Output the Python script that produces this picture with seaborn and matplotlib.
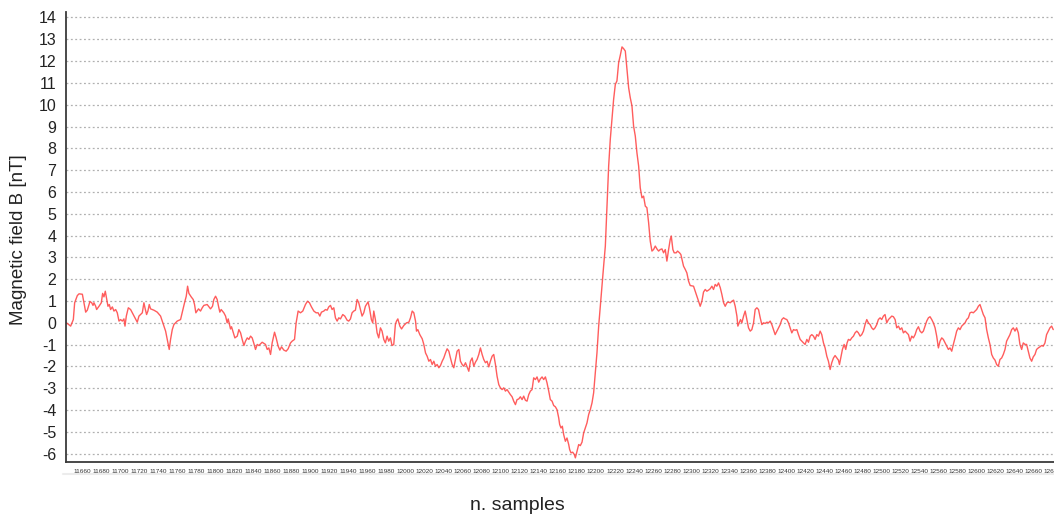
import matplotlib
matplotlib.use("Agg")
import matplotlib.pyplot as plt
from matplotlib.lines import Line2D
import pandas as pd
import seaborn as sns

# sample index (n. samples) and field value [nT]
samples = [
    11643.0, 11644.4, 11647.9, 11650.7, 11652.1, 11654.9, 11656.7, 11660.2, 11661.9, 11663.7,
    11665.4, 11668.2, 11670.0, 11671.4, 11672.4, 11674.2, 11675.2, 11677.7, 11680.1, 11681.5,
    11682.9, 11684.3, 11685.7, 11687.1, 11688.5, 11689.9, 11691.7, 11693.4, 11695.2, 11696.9,
    11698.7, 11700.4, 11702.2, 11703.9, 11705.0, 11706.4, 11708.5, 11710.9, 11713.7, 11716.2,
    11717.9, 11719.7, 11721.4, 11723.2, 11724.9, 11726.0, 11727.7, 11729.1, 11730.5, 11731.9,
    11735.4, 11738.9, 11742.4, 11744.2, 11745.9, 11747.7, 11749.4, 11751.5, 11752.9, 11754.7,
    11756.4, 11759.9, 11763.4, 11765.9, 11767.6, 11769.4, 11770.8, 11772.2, 11774.6, 11776.7,
    11778.1, 11779.5, 11782.3, 11784.4, 11786.2, 11787.9, 11791.4, 11794.9, 11797.0, 11798.4,
    11800.2, 11801.9, 11803.3, 11804.7, 11806.1, 11808.9, 11810.7, 11812.4, 11813.5, 11815.9,
    11817.0, 11818.4, 11820.5, 11823.0, 11824.7, 11826.5, 11828.2, 11830.0, 11831.7, 11833.5,
    11835.2, 11837.0, 11838.7, 11840.5, 11842.2, 11844.0, 11845.7, 11849.2, 11852.7, 11854.5,
    11856.2, 11858.0, 11859.7, 11862.2, 11863.9, 11866.0, 11867.8, 11869.5, 11872.0, 11874.4,
    11876.5, 11879.0, 11880.7, 11883.2, 11884.9, 11887.0, 11889.5, 11891.9, 11894.7, 11896.8,
    11898.9, 11901.0, 11903.5, 11905.9, 11908.0, 11909.8, 11911.5, 11914.0, 11915.7, 11917.5,
    11919.2, 11921.0, 11922.7, 11924.5, 11926.2, 11928.0, 11929.7, 11931.5, 11933.9, 11936.0,
    11938.5, 11940.2, 11942.0, 11943.7, 11945.5, 11947.2, 11949.0, 11950.7, 11952.5, 11954.2,
    11956.0, 11957.7, 11960.5, 11961.9, 11964.0, 11965.4, 11966.5, 11968.2, 11970.0, 11971.7,
    11973.5, 11975.2, 11977.0, 11978.7, 11980.5, 11982.2, 11984.0, 11985.7, 11987.5, 11989.2,
    11990.4, 11991.8, 11993.9, 11995.7, 11998.1, 12000.9, 12003.4, 12005.1, 12006.9, 12008.6,
    12010.4, 12011.4, 12012.8, 12014.9, 12017.4, 12019.1, 12020.9, 12022.6, 12024.4, 12026.1,
    12027.9, 12029.6, 12031.4, 12033.1, 12034.9, 12036.6, 12038.4, 12040.1, 12041.9, 12043.6,
    12045.4, 12047.1, 12048.9, 12050.6, 12052.4, 12054.1, 12055.9, 12057.6, 12059.4, 12061.1,
    12062.9, 12064.6, 12066.4, 12068.1, 12069.9, 12071.6, 12073.4, 12075.1, 12076.9, 12078.6,
    12080.4, 12082.1, 12083.9, 12085.6, 12087.4, 12089.1, 12090.9, 12092.6, 12094.4, 12096.1,
    12097.9, 12099.6, 12101.4, 12103.1, 12104.9, 12106.6, 12108.4, 12110.1, 12111.9, 12113.6,
    12115.4, 12117.1, 12118.9, 12120.6, 12122.4, 12124.1, 12125.9, 12127.6, 12129.4, 12131.1,
    12132.9, 12134.6, 12136.4, 12138.1, 12139.9, 12141.6, 12143.4, 12145.1, 12146.9, 12148.6,
    12150.4, 12152.1, 12153.9, 12155.6, 12157.4, 12159.1, 12160.9, 12161.9, 12163.3, 12164.7,
    12166.1, 12167.9, 12169.6, 12171.4, 12172.4, 12173.8, 12175.6, 12177.3, 12178.4, 12180.1,
    12181.9, 12183.6, 12185.4, 12187.1, 12188.9, 12190.6, 12192.4, 12194.1, 12195.9, 12197.6,
    12199.4, 12201.1, 12202.9, 12204.6, 12206.4, 12208.1, 12209.9, 12211.6, 12213.4, 12215.1,
    12216.9, 12218.6, 12220.4, 12222.1, 12223.9, 12225.6, 12227.4, 12229.1, 12230.9, 12232.6,
    12234.4, 12236.1, 12237.9, 12239.6, 12241.4, 12243.1, 12244.9, 12246.6, 12248.4, 12250.1,
    12251.9, 12253.6, 12255.4, 12257.1, 12258.9, 12260.6, 12262.4, 12264.1, 12265.9, 12267.6,
    12269.4, 12271.1, 12272.9, 12274.6, 12276.4, 12278.1, 12279.2, 12280.9, 12282.3, 12284.4,
    12285.8, 12287.9, 12289.3, 12292.1, 12293.9, 12295.6, 12297.4, 12299.1, 12302.6, 12304.4,
    12306.1, 12307.9, 12309.6, 12311.4, 12313.1, 12314.9, 12316.6, 12318.4, 12320.1, 12321.9,
    12323.6, 12325.4, 12327.1, 12328.9, 12330.7, 12332.4, 12334.2, 12335.9, 12337.7, 12339.4,
    12341.2, 12342.9, 12344.7, 12346.4, 12348.2, 12349.2, 12350.6, 12352.0, 12353.4, 12355.2,
    12356.9, 12358.7, 12360.4, 12362.2, 12363.9, 12365.7, 12367.4, 12369.2, 12370.9, 12372.7,
    12374.4, 12376.2, 12377.9, 12379.7, 12381.4, 12383.2, 12384.9, 12386.7, 12388.4, 12390.2,
    12391.9, 12393.7, 12395.4, 12397.2, 12398.9, 12400.7, 12402.4, 12404.2, 12405.9, 12407.7,
    12409.4, 12411.2, 12412.9, 12414.7, 12416.4, 12418.2, 12419.9, 12421.7, 12423.4, 12425.2,
    12426.9, 12428.7, 12430.4, 12432.2, 12433.9, 12435.7, 12437.4, 12439.2, 12440.9, 12442.7,
    12444.4, 12446.2, 12447.9, 12449.7, 12451.4, 12453.2, 12454.9, 12456.0, 12457.7, 12459.1,
    12460.9, 12462.6, 12464.0, 12465.4, 12467.2, 12468.9, 12470.7, 12472.4, 12474.2, 12475.9,
    12477.7, 12479.4, 12481.2, 12482.9, 12484.7, 12486.4, 12488.2, 12489.9, 12491.7, 12493.4,
    12495.2, 12496.9, 12498.7, 12500.4, 12502.2, 12503.9, 12505.7, 12507.5, 12509.2, 12511.0,
    12512.7, 12514.5, 12516.2, 12518.0, 12519.7, 12521.5, 12523.2, 12525.0, 12526.7, 12528.5,
    12530.2, 12532.0, 12533.7, 12535.5, 12537.2, 12539.0, 12540.7, 12542.5, 12544.2, 12546.0,
    12547.7, 12549.5, 12551.2, 12553.0, 12554.7, 12556.5, 12558.2, 12560.0, 12561.7, 12563.5,
    12565.2, 12567.0, 12568.7, 12570.5, 12572.2, 12574.0, 12575.7, 12577.5, 12579.2, 12581.0,
    12582.7, 12584.5, 12586.2, 12588.0, 12589.7, 12591.5, 12593.2, 12595.0, 12596.7, 12598.5,
    12600.2, 12602.0, 12603.7, 12605.5, 12607.2, 12609.0, 12610.7, 12612.5, 12614.2, 12616.0,
    12617.7, 12619.5, 12621.2, 12623.0, 12624.7, 12626.5, 12628.2, 12630.0, 12631.7, 12633.5,
    12635.2, 12637.0, 12638.7, 12640.5, 12642.2, 12644.0, 12645.7, 12647.5, 12649.2, 12651.0,
    12652.7, 12654.5, 12656.2, 12658.0, 12659.7, 12661.5, 12663.2, 12665.0, 12666.7, 12668.5,
    12670.2, 12672.0, 12673.7, 12675.5, 12677.2, 12679.0, 12680.7,
]

field_nt = [
    0.00, -0.03, -0.15, 0.15, 0.92, 1.25, 1.33, 1.31, 0.92, 0.49,
    0.58, 0.98, 0.92, 0.80, 0.92, 0.76, 0.61, 0.76, 0.92, 1.35,
    1.19, 1.45, 1.10, 0.76, 0.84, 0.61, 0.73, 0.54, 0.61, 0.46,
    0.08, 0.15, 0.08, 0.18, -0.15, 0.31, 0.69, 0.61, 0.38, 0.18,
    0.03, 0.31, 0.38, 0.46, 0.92, 0.69, 0.38, 0.54, 0.84, 0.64,
    0.58, 0.49, 0.31, 0.08, -0.15, -0.38, -0.76, -1.22, -0.76, -0.31,
    -0.08, 0.08, 0.15, 0.61, 0.92, 1.22, 1.68, 1.35, 1.19, 1.07,
    0.84, 0.46, 0.64, 0.54, 0.69, 0.80, 0.84, 0.64, 0.76, 1.07,
    1.22, 1.07, 0.76, 0.49, 0.61, 0.46, 0.31, 0.00, 0.18, -0.28,
    -0.18, -0.38, -0.69, -0.61, -0.31, -0.46, -0.76, -1.04, -0.84, -0.69,
    -0.76, -0.61, -0.69, -0.95, -1.22, -0.99, -1.04, -0.89, -0.99, -1.22,
    -1.15, -1.45, -0.92, -0.43, -0.69, -1.07, -1.25, -1.10, -1.25, -1.30,
    -1.19, -0.92, -0.84, -0.76, 0.00, 0.54, 0.46, 0.54, 0.84, 0.99,
    0.92, 0.73, 0.54, 0.46, 0.46, 0.31, 0.49, 0.54, 0.61, 0.58,
    0.73, 0.80, 0.61, 0.69, 0.23, 0.08, 0.23, 0.18, 0.38, 0.31,
    0.12, 0.08, 0.18, 0.46, 0.54, 0.58, 1.07, 0.92, 0.61, 0.31,
    0.46, 0.76, 0.96, 0.69, 0.15, 0.00, 0.54, 0.15, -0.46, -0.69,
    -0.23, -0.38, -0.76, -0.92, -0.61, -0.84, -0.69, -1.04, -0.99, -0.08,
    0.08, 0.18, -0.15, -0.28, -0.12, 0.00, 0.03, 0.23, 0.54, 0.46,
    0.08, -0.38, -0.31, -0.54, -0.73, -0.99, -1.38, -1.53, -1.76, -1.68,
    -1.91, -1.76, -1.99, -1.91, -2.06, -1.96, -1.76, -1.61, -1.38, -1.19,
    -1.30, -1.61, -1.91, -2.06, -1.68, -1.30, -1.22, -1.76, -1.91, -1.99,
    -1.83, -2.02, -2.22, -1.76, -1.61, -1.99, -1.80, -1.68, -1.45, -1.15,
    -1.45, -1.68, -1.83, -1.76, -2.02, -1.76, -1.53, -1.45, -1.91, -2.45,
    -2.83, -2.98, -3.06, -2.98, -3.13, -3.06, -3.18, -3.29, -3.39, -3.59,
    -3.75, -3.52, -3.49, -3.39, -3.52, -3.36, -3.55, -3.59, -3.29, -3.13,
    -3.06, -2.52, -2.60, -2.48, -2.72, -2.57, -2.48, -2.60, -2.48, -2.75,
    -3.13, -3.52, -3.59, -3.79, -3.85, -3.98, -4.36, -4.66, -4.82, -4.74,
    -5.12, -5.43, -5.28, -5.58, -5.81, -5.96, -5.93, -6.04, -6.19, -5.89,
    -5.58, -5.63, -5.47, -5.05, -4.82, -4.59, -4.20, -3.98, -3.67, -3.21,
    -2.29, -1.38, -0.15, 0.76, 1.68, 2.60, 3.52, 5.35, 7.19, 8.41,
    9.33, 10.24, 10.93, 11.09, 11.93, 12.26, 12.65, 12.57, 12.46, 11.62,
    10.78, 10.32, 9.94, 9.02, 8.56, 7.80, 7.19, 6.19, 5.73, 5.81,
    5.35, 5.28, 4.59, 3.75, 3.29, 3.36, 3.52, 3.39, 3.29, 3.36,
    3.39, 3.21, 3.36, 2.83, 3.36, 3.82, 3.98, 3.36, 3.21, 3.21,
    3.29, 3.21, 3.13, 2.60, 2.45, 2.29, 1.91, 1.71, 1.68, 1.45,
    1.22, 0.99, 0.76, 0.99, 1.41, 1.53, 1.45, 1.50, 1.56, 1.68,
    1.53, 1.76, 1.68, 1.83, 1.61, 1.30, 0.92, 0.76, 0.92, 0.95,
    0.92, 0.99, 1.04, 0.76, 0.31, -0.15, 0.00, 0.15, 0.00, 0.31,
    0.54, 0.15, -0.23, -0.38, -0.31, 0.00, 0.61, 0.69, 0.61, 0.23,
    -0.08, 0.00, -0.03, 0.03, 0.00, 0.08, -0.08, -0.31, -0.54, -0.38,
    -0.23, -0.08, 0.15, 0.23, 0.18, 0.15, 0.00, -0.23, -0.46, -0.31,
    -0.34, -0.31, -0.54, -0.76, -0.84, -0.92, -0.99, -0.76, -0.89, -0.61,
    -0.54, -0.61, -0.76, -0.54, -0.61, -0.38, -0.54, -0.92, -1.15, -1.53,
    -1.76, -2.14, -1.83, -1.61, -1.50, -1.61, -1.71, -1.91, -1.53, -1.22,
    -0.99, -1.22, -0.92, -0.76, -0.80, -0.69, -0.61, -0.46, -0.38, -0.46,
    -0.61, -0.54, -0.38, -0.08, 0.15, 0.00, -0.08, -0.23, -0.31, -0.23,
    -0.08, 0.15, 0.23, 0.15, 0.31, 0.38, 0.00, 0.15, 0.23, 0.31,
    0.28, 0.15, -0.23, -0.15, -0.31, -0.23, -0.46, -0.38, -0.46, -0.54,
    -0.84, -0.61, -0.69, -0.54, -0.31, -0.18, -0.38, -0.46, -0.38, -0.15,
    0.08, 0.23, 0.28, 0.15, 0.00, -0.23, -0.61, -1.15, -0.84, -0.69,
    -0.76, -0.92, -1.07, -1.22, -1.15, -1.30, -0.99, -0.69, -0.38, -0.23,
    -0.31, -0.15, -0.08, 0.00, 0.15, 0.23, 0.46, 0.49, 0.46, 0.54,
    0.61, 0.76, 0.84, 0.61, 0.38, 0.23, -0.31, -0.69, -0.99, -1.45,
    -1.61, -1.71, -1.91, -1.99, -1.68, -1.61, -1.45, -1.22, -0.84, -0.69,
    -0.54, -0.31, -0.23, -0.38, -0.23, -0.46, -0.99, -1.22, -0.92, -0.99,
    -0.99, -1.30, -1.61, -1.76, -1.56, -1.45, -1.22, -1.15, -1.10, -1.04,
    -1.07, -0.92, -0.54, -0.38, -0.23, -0.15, -0.31,
]

x_ticks = list(range(11660, 12681, 20))
y_ticks = list(range(-6, 15))

df = pd.DataFrame({"n. samples": samples, "Magnetic field B [nT]": field_nt})

sns.set_style("white")
plt.rcParams["font.family"] = ["Liberation Sans", "DejaVu Sans"]
plt.rcParams["axes.unicode_minus"] = False

fig = plt.figure(figsize=(10.54, 5.18), dpi=100)
ax = fig.add_axes([66 / 1054, 1 - 462 / 518, 1 - 66 / 1054, 450 / 518])

sns.lineplot(data=df, x="n. samples", y="Magnetic field B [nT]", ax=ax,
             color="#ff4040", linewidth=1.0, alpha=0.85, sort=False)

ax.set_xlim(11643, 12681.5)
ax.set_ylim(-6.38, 14.25)
ax.set_xticks(x_ticks)
ax.set_yticks(y_ticks)
ax.tick_params(axis="x", labelsize=4.6, length=3, width=0.8, color="#555555",
               labelcolor="#333333", pad=2)
ax.tick_params(axis="y", labelsize=11.5, length=4, width=0.8, color="#555555",
               labelcolor="#222222", pad=3)

ax.yaxis.grid(True, linestyle=(0, (1.5, 2.0)), color="#b0b0b0", linewidth=0.9)
ax.xaxis.grid(False)

for side in ["top", "right"]:
    ax.spines[side].set_visible(False)
for side in ["left", "bottom"]:
    ax.spines[side].set_color("#3a3a3a")
    ax.spines[side].set_linewidth(1.3)

ax.set_xlabel("n. samples", fontsize=14, color="#222222", va="center")
ax.set_ylabel("Magnetic field B [nT]", fontsize=13.5, color="#222222", va="center")
ax.xaxis.set_label_coords((517 - 66) / 988, (462 - 505) / 450)
ax.yaxis.set_label_coords((19 - 66) / 988, (462 - 240) / 450)

# faint band under the sample labels
fig.add_artist(Line2D([63 / 1054, 1.0], [1 - 474 / 518] * 2, color="#ececec", linewidth=1.5))

fig.savefig("out.png", dpi=100)
